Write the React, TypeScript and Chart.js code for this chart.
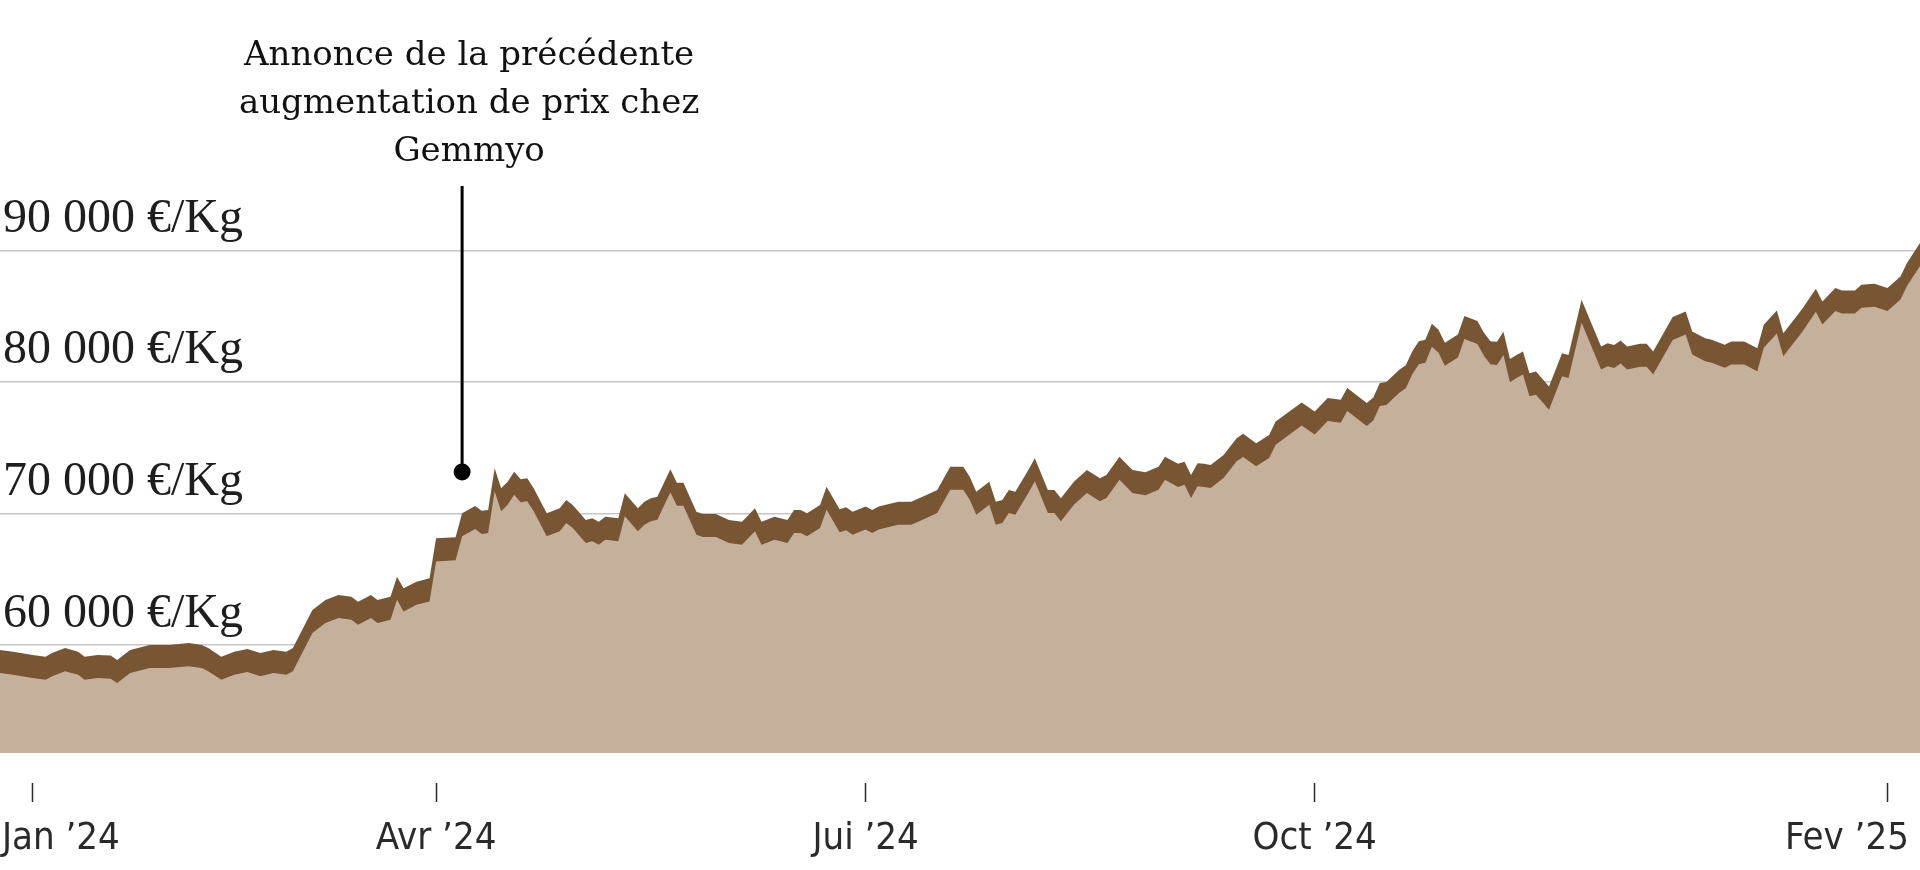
import React, { useEffect, useRef } from "react";
import { Chart, registerables } from "chart.js";

Chart.register(...registerables);

// Trading-session index (0 = first session of January 2024)
const sessions = [
  -5, -3, 0, 2, 3, 5, 7, 8, 10, 12, 13, 15, 18, 21, 24, 26, 27, 29, 31, 33, 35, 37, 39, 40,
  43, 45, 47, 49, 50, 52, 53, 55, 56, 57, 59, 61, 62, 65, 66, 68, 69, 70,
  71, 72, 73, 74, 75, 76, 77, 79, 81, 82, 83, 85, 86, 87, 88, 90, 91, 93, 94, 95, 96, 98, 99, 100,
  102, 103, 105, 107, 109, 111, 112, 114, 116, 117, 118, 119, 121, 122, 124, 125, 126, 128, 129, 130,
  133, 135, 137, 139, 141, 143, 144, 145, 147, 148, 149, 150, 151, 153, 154, 156, 157, 158, 160, 162,
  164, 165, 167, 169, 171, 173, 174, 176, 177, 178, 179, 180, 181, 183, 185, 186, 188, 190, 191, 195,
  197, 199, 201, 202, 205, 206, 207, 208, 210, 211, 212, 213, 214, 215, 216, 217, 219, 220, 222, 223,
  224, 225, 226, 227, 228, 229, 230, 231, 233, 234, 235, 236, 238, 241, 242, 243, 244, 245, 247, 248,
  249, 252, 254, 255, 257, 258, 260, 261, 263, 265, 266, 268, 269, 271, 272, 274, 275, 277, 278, 280,
  281, 283, 285, 287, 288, 290,
];

// Gold price, €/kg
const prices = [
  59620, 59490, 59240, 59110, 59390, 59770, 59490, 59110, 59240, 59200, 58860, 59620, 60000, 60000, 60150, 60000, 59770, 59110, 59490, 59700, 59390, 59620, 59490, 59770,
  62660, 63420, 63800, 63670, 63290, 63800, 63420, 63670, 65190, 64310, 64810, 65070, 68110, 68190, 70020, 70570, 70200, 70270,
  73440, 71920, 72420, 73180, 72600, 72680, 71920, 70020, 70400, 71030, 70650, 69510, 69640, 69380, 69760, 69640, 71540, 70400, 70900, 71160, 71280, 73360, 72340, 72340,
  70140, 69960, 69960, 69510, 69380, 70400, 69380, 69760, 69510, 70270, 70270, 70020, 70650, 72040, 70330, 70480, 70140, 70530, 70270, 70530,
  70900, 70900, 71330, 71790, 73560, 73560, 72800, 71660, 72420, 70900, 71030, 71790, 71660, 73310, 74200, 71790, 71790, 71160, 72420, 73310,
  72680, 72930, 74320, 73310, 73130, 73560, 74320, 73770, 73940, 72930, 73820, 73770, 73690, 74450, 75720, 76050, 75340, 75970, 76980, 78430,
  77750, 78770, 78640, 79530, 78390, 78820, 79910, 79990, 80930, 81260, 82330, 83090, 83210, 84410, 83980, 82970, 83600, 85000, 84620, 83730,
  83090, 83040, 83800, 81730, 82050, 82310, 80660, 80780, 79640, 80910, 82180, 82050, 86240, 82690, 82940, 82810, 83140, 82690, 82890, 82890,
  82310, 84930, 85350, 83830, 83320, 83200, 82820, 83070, 83070, 82560, 84340, 85420, 83700, 84970, 85610, 87070, 86110, 87130, 86950, 86950,
  87380, 87450, 87130, 88010, 89030, 90550,
];

const sessionMin = -5;
const sessionMax = 290;
const tickSessions = [0, 62, 128, 197, 285];
const tickLabels = ["Jan \u201924", "Avr \u201924", "Jui \u201924", "Oct \u201924", "Fev \u201925"];
const gridValues = [60000, 70000, 80000, 90000];

const annotationLines = ["Annonce de la précédente", "augmentation de prix chez", "Gemmyo"];
const annotationSession = 66;
const annotationValue = 73150;

export default function App() {
  const ref = useRef<HTMLCanvasElement>(null);

  useEffect(() => {
    const canvas = ref.current;
    if (!canvas) return;

    const topPts = sessions.map((s, i) => ({ x: s, y: prices[i] }));
    const lowPts = sessions.map((s, i) => ({ x: s, y: prices[i] }));

    // label anchors: first/last labels pinned near the plot edges, others centred on their tick
    const labelAnchors = tickSessions.map((s, i) =>
      i === 0 ? sessionMin + 0.3 : i === tickSessions.length - 1 ? sessionMax - 1.7 : s
    );

    const annotationPlugin = {
      id: "annotation",
      afterDraw(chart: any) {
        const { ctx, scales } = chart;
        const x = scales.x.getPixelForValue(annotationSession);
        const y = scales.y.getPixelForValue(annotationValue);
        ctx.save();
        ctx.strokeStyle = "#000";
        ctx.lineWidth = 3;
        ctx.beginPath();
        ctx.moveTo(x, y - 286);
        ctx.lineTo(x, y);
        ctx.stroke();
        ctx.beginPath();
        ctx.arc(x, y, 8.5, 0, Math.PI * 2);
        ctx.fillStyle = "#000";
        ctx.fill();
        ctx.fillStyle = "#111";
        ctx.font = '34px "DejaVu Serif", serif';
        ctx.textAlign = "center";
        ctx.textBaseline = "alphabetic";
        annotationLines.forEach((t, i) => ctx.fillText(t, x + 7, y - 407 + i * 48));
        ctx.restore();
      },
    };

    const chart = new Chart(canvas, {
      type: "line",
      data: {
        datasets: [
          {
            data: topPts,
            yAxisID: "y",
            xAxisID: "x",
            backgroundColor: "#785634",
            borderWidth: 0,
            pointRadius: 0,
            fill: "origin",
            order: 1,
            tension: 0,
          },
          {
            data: lowPts,
            yAxisID: "y2",
            xAxisID: "x",
            backgroundColor: "#c5b09c",
            borderWidth: 0,
            pointRadius: 0,
            fill: "origin",
            order: 0,
            tension: 0,
          },
        ],
      },
      options: {
        responsive: false,
        animation: false,
        layout: { padding: { top: 220, left: 0, right: 0, bottom: 0 } },
        plugins: { legend: { display: false }, tooltip: { enabled: false } },
        scales: {
          x: {
            type: "linear",
            position: "bottom",
            weight: 0,
            min: sessionMin,
            max: sessionMax,
            afterBuildTicks: (s: any) => {
              s.ticks = tickSessions.map((v) => ({ value: v }));
            },
            afterFit: (s: any) => {
              s.height = 49;
              s.paddingLeft = 0;
              s.paddingRight = 0;
            },
            grid: {
              display: true,
              drawOnChartArea: false,
              drawTicks: true,
              tickLength: 49,
              tickColor: "#2a2a2a",
              tickWidth: 1.5,
              tickBorderDash: [0, 30, 19, 0],
            },
            border: { display: false },
            ticks: { display: false },
          },
          xLabels: {
            type: "linear",
            position: "bottom",
            weight: 1,
            min: sessionMin,
            max: sessionMax,
            afterBuildTicks: (s: any) => {
              s.ticks = labelAnchors.map((v) => ({ value: v }));
            },
            afterFit: (s: any) => {
              s.height = 68;
              s.paddingLeft = 0;
              s.paddingRight = 0;
            },
            grid: { display: false, drawTicks: false },
            border: { display: false },
            ticks: {
              align: "inner",
              maxRotation: 0,
              autoSkip: false,
              padding: 14,
              color: "#2a2a2a",
              font: { family: "'Liberation Sans Narrow', 'DejaVu Sans Condensed', sans-serif", size: 38 },
              callback: (v: any) => {
                const i = labelAnchors.indexOf(Number(v));
                return i >= 0 ? tickLabels[i] : "";
              },
            },
          },
          y: {
            type: "linear",
            min: 51800,
            max: 92300,
            afterBuildTicks: (s: any) => {
              s.ticks = gridValues.map((v) => ({ value: v }));
            },
            afterFit: (s: any) => {
              s.width = 0;
            },
            grid: { color: "#c8c6c2", lineWidth: 1.5, drawTicks: false },
            border: { display: false },
            ticks: {
              mirror: true,
              padding: 3,
              labelOffset: -31,
              color: "#1e1e1e",
              font: { family: "'Liberation Serif', serif", size: 48 },
              callback: (v: any) => `${Math.round(Number(v) / 1000)} 000 €/Kg`,
            },
          },
          y2: {
            type: "linear",
            display: false,
            min: 53550,
            max: 94050,
          },
        },
      },
      plugins: [annotationPlugin],
    } as any);

    return () => chart.destroy();
  }, []);

  return (
    <div style={{ position: "absolute", left: 0, top: 0, width: 1920, height: 870, background: "#fff" }}>
      <canvas ref={ref} width={1920} height={870} style={{ display: "block" }} />
    </div>
  );
}
